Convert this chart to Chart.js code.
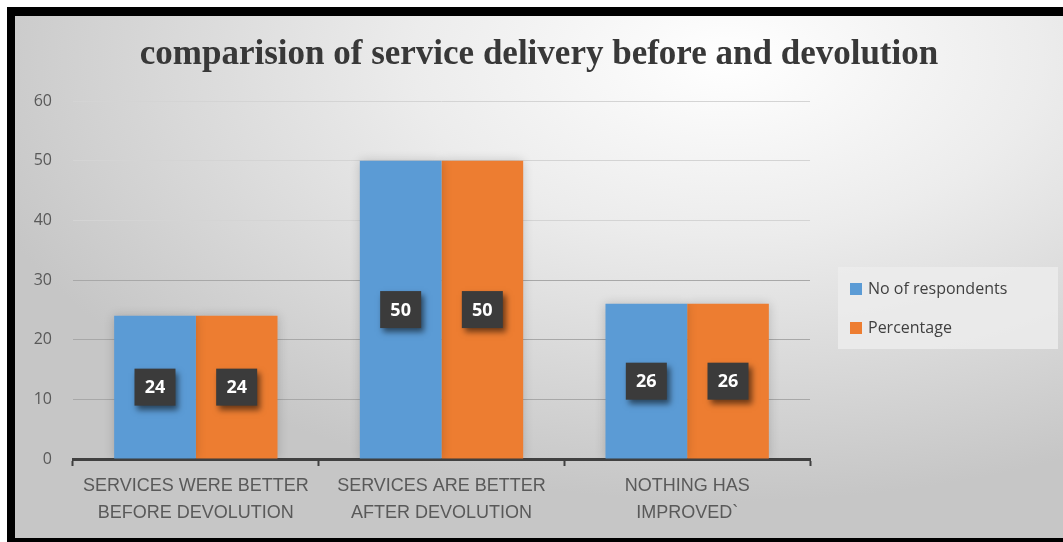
<!DOCTYPE html>
<html>
<head>
<meta charset="utf-8">
<script src="https://cdn.jsdelivr.net/npm/chart.js@4/dist/chart.umd.min.js"></script>
<style>
  html, body { margin: 0; padding: 0; background: #fff; }
  #frame {
    position: absolute;
    left: 7px; top: 7px;
    width: 1048px; height: 522px;
    border-left: 8px solid #000;
    border-top: 9px solid #000;
    border-bottom: 4px solid #000;
    background: radial-gradient(ellipse 75% 85% at 68% 8%, #ffffff 0%, #ececec 40%, #d6d6d6 75%, #c6c6c6 100%);
    overflow: hidden;
  }
  #chart { position: absolute; left: 0; top: 0; }
  #legend {
    position: absolute;
    left: 823px; top: 251px;
    width: 220px; height: 82px;
    background: rgba(236, 236, 236, 0.85);
    font-family: 'Open Sans', 'Liberation Sans', sans-serif;
    font-size: 16px;
    color: #404040;
  }
  #legend .item { position: absolute; left: 12px; height: 20px; line-height: 20px; white-space: nowrap; }
  #legend .sw { display: inline-block; width: 12px; height: 12px; margin-right: 6px; vertical-align: -1px; }
</style>
</head>
<body>
<div id="frame">
  <canvas id="chart" width="1048" height="522"></canvas>
  <div id="legend"></div>
</div>
<script>
// categories and values
const categories = [
  ['SERVICES WERE BETTER', 'BEFORE DEVOLUTION'],
  ['SERVICES ARE BETTER', 'AFTER DEVOLUTION'],
  ['NOTHING HAS', 'IMPROVED`']
];
const respondents = [24, 50, 26];
const percentage = [24, 50, 26];
const yTicks = [0, 10, 20, 30, 40, 50, 60];

const seriesNames = ['No of respondents', 'Percentage'];
const seriesColors = ['#5b9bd5', '#ed7d31'];

// dark value boxes in the middle of each bar
const valueBoxes = {
  id: 'valueBoxes',
  afterDatasetsDraw(chart) {
    const ctx = chart.ctx;
    chart.data.datasets.forEach((ds, i) => {
      const meta = chart.getDatasetMeta(i);
      meta.data.forEach((bar, j) => {
        const cx = bar.x;
        const cy = (bar.y + bar.base) / 2;
        const w = 41, h = 37;
        ctx.save();
        ctx.shadowColor = 'rgba(0,0,0,0.55)';
        ctx.shadowBlur = 6;
        ctx.shadowOffsetX = 3;
        ctx.shadowOffsetY = 4;
        ctx.fillStyle = '#3b3b3b';
        ctx.fillRect(cx - w / 2, cy - h / 2, w, h);
        ctx.restore();
        ctx.save();
        ctx.fillStyle = '#ffffff';
        ctx.font = 'bold 18px "Open Sans", "Liberation Sans", sans-serif';
        ctx.textAlign = 'center';
        ctx.textBaseline = 'middle';
        ctx.fillText(String(ds.data[j]), cx, cy + 1);
        ctx.restore();
      });
    });
  }
};

// soft shadow around the bars
const barShadow = {
  id: 'barShadow',
  beforeDatasetsDraw(chart) {
    chart.ctx.save();
    chart.ctx.shadowColor = 'rgba(0,0,0,0.18)';
    chart.ctx.shadowBlur = 10;
  },
  afterDatasetsDraw(chart) {
    chart.ctx.restore();
  }
};

const chart = new Chart(document.getElementById('chart'), {
  type: 'bar',
  data: {
    labels: categories,
    datasets: [
      { label: seriesNames[0], data: respondents, backgroundColor: seriesColors[0] },
      { label: seriesNames[1], data: percentage, backgroundColor: seriesColors[1] }
    ]
  },
  options: {
    responsive: false,
    animation: false,
    categoryPercentage: 0.665,
    barPercentage: 1.0,
    layout: { padding: 0 },
    plugins: {
      legend: { display: false },
      tooltip: { enabled: false },
      title: {
        display: true,
        text: 'comparision of service delivery before and devolution',
        color: '#383838',
        font: { family: '"Liberation Serif", "DejaVu Serif", serif', size: 35, weight: 'bold', lineHeight: 1.2 },
        padding: { top: 18, bottom: 25 }
      }
    },
    scales: {
      x: {
        grid: {
          offset: true,
          drawOnChartArea: false,
          drawTicks: true,
          tickLength: 7,
          tickWidth: 2,
          tickColor: '#404040'
        },
        border: { display: true, color: '#404040', width: 3 },
        ticks: {
          color: '#595959',
          padding: 7,
          font: { family: '"Liberation Sans Narrow", "Liberation Sans", sans-serif', size: 18, lineHeight: 1.5 },
          maxRotation: 0
        },
        afterFit(scale) { scale.height = 79; }
      },
      y: {
        min: 0,
        max: 60,
        afterBuildTicks(scale) { scale.ticks = yTicks.map(v => ({ value: v })); },
        grid: {
          drawTicks: false,
          color: ctx => (ctx.tick && ctx.tick.value <= 30 ? '#a8a8a8' : '#d4d4d4'),
          lineWidth: 1
        },
        border: { display: false },
        ticks: {
          color: '#595959',
          padding: 21,
          font: { family: '"Open Sans", "Liberation Sans", sans-serif', size: 16 }
        },
        afterFit(scale) { scale.width = 58; }
      },
      // empty right-hand axis that keeps room for the legend
      side: {
        position: 'right',
        display: true,
        min: 0,
        max: 60,
        grid: { display: false, drawTicks: false },
        border: { display: false },
        ticks: { display: false },
        afterFit(scale) { scale.width = 253; }
      }
    }
  },
  plugins: [barShadow, valueBoxes]
});

// legend built from the datasets
const legend = document.getElementById('legend');
chart.data.datasets.forEach((ds, i) => {
  const item = document.createElement('div');
  item.className = 'item';
  item.style.top = (i === 0 ? 11 : 50) + 'px';
  item.innerHTML = '<span class="sw" style="background:' + ds.backgroundColor + '"></span>' + ds.label;
  legend.appendChild(item);
});
</script>
</body>
</html>
